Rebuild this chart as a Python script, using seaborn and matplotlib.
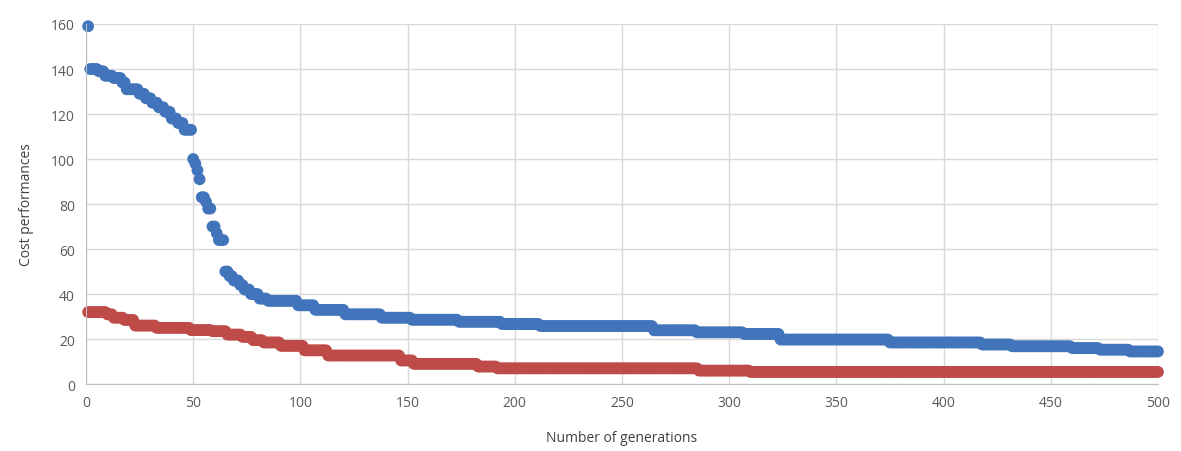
import numpy as np
import pandas as pd
import matplotlib
matplotlib.use("Agg")
import matplotlib.pyplot as plt
import seaborn as sns

# blue series: plateau values and how many generations each lasts
blue_values = [159, 140, 139, 137, 136, 134, 131, 129, 127, 125, 123, 121, 118, 116, 113,
               100, 98, 95, 91, 83, 81, 78, 70, 67, 64, 50, 48, 46, 44, 42, 40, 38, 37,
               35, 33, 31, 29.5, 28.6, 27.7, 26.7, 25.8, 23.9, 23, 22.3, 19.8, 18.5,
               17.6, 16.8, 16, 15.3, 14.5]
blue_counts = [1, 4, 3, 4, 4, 2, 6, 3, 3, 3, 3, 3, 3, 3, 4,
               1, 1, 1, 1, 2, 1, 2, 2, 1, 3, 2, 2, 3, 2, 3, 4, 4, 14,
               8, 14, 17, 14, 22, 20, 18, 53, 20, 22, 17, 51, 43,
               14, 28, 13, 14, 14]

# red series
red_values = [32, 31, 29.5, 28.5, 26, 25, 24, 23.5, 22, 21, 19.5, 18.5, 17, 15,
              12.7, 10.5, 9, 7.8, 7, 6, 5.4]
red_counts = [9, 3, 5, 5, 10, 16, 10, 7, 7, 5, 5, 8, 11, 11,
              34, 6, 30, 9, 94, 24, 191]

generations = np.arange(1, 501)

df = pd.concat([
    pd.DataFrame({"gen": generations, "cost": np.repeat(blue_values, blue_counts), "series": "blue"}),
    pd.DataFrame({"gen": generations, "cost": np.repeat(red_values, red_counts), "series": "red"}),
])

sns.set_style("white")
plt.rcParams['font.family'] = ['Open Sans', 'DejaVu Sans']

fig = plt.figure(figsize=(11.81, 4.52), dpi=100)
ax = fig.add_axes([0.0728, 0.148, 0.9077, 0.7967])

sns.scatterplot(data=df, x="gen", y="cost", hue="series",
                palette={"blue": "#4174BA", "red": "#BE4B48"},
                s=72, linewidth=0, legend=False, ax=ax, clip_on=False)

ax.set_xlim(0, 500)
ax.set_ylim(0, 160)
ax.set_xticks(range(0, 501, 50))
ax.set_yticks(range(0, 161, 20))
ax.grid(True, color="#D9D9D9", linewidth=1)
ax.set_axisbelow(True)
for side in ["top", "right"]:
    ax.spines[side].set_visible(False)
for side in ["left", "bottom"]:
    ax.spines[side].set_color("#BFBFBF")
ax.tick_params(length=0, labelsize=10, labelcolor="#595959", pad=8)

ax.set_xlabel("Number of generations", fontsize=10, color="#404040", labelpad=14)
ax.set_ylabel("Cost performances", fontsize=10, color="#404040", labelpad=12)

fig.savefig("out.png", dpi=100)
